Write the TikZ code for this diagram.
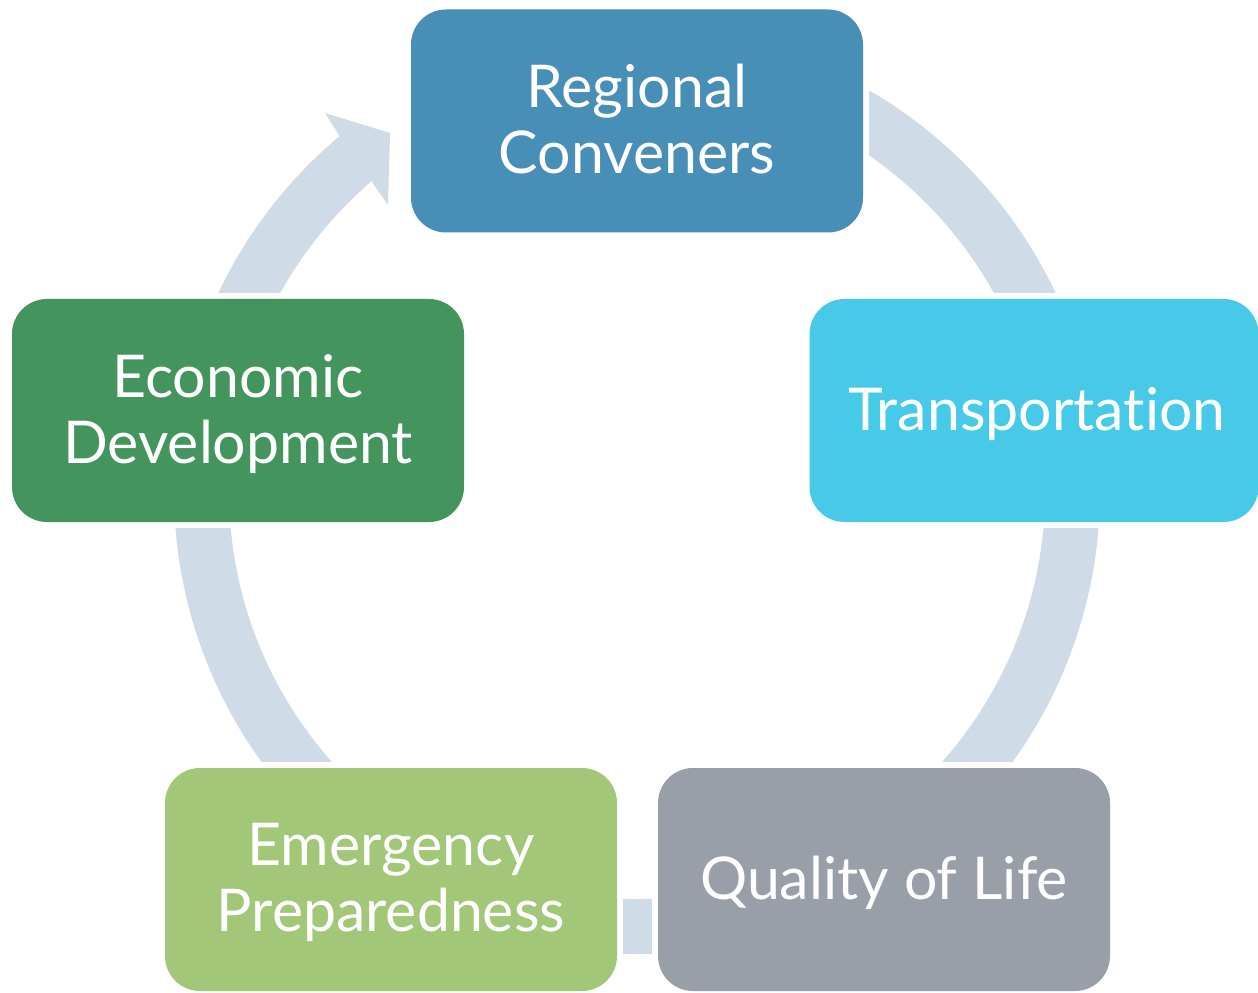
\documentclass[tikz,border=0pt]{standalone}
\usepackage{fontspec}
\setmainfont{Lato}[Ligatures=NoCommon]
\usetikzlibrary{backgrounds}
\definecolor{cRC}{HTML}{488FB8}
\definecolor{cT}{HTML}{46CAE8}
\definecolor{cQ}{HTML}{989FA9}
\definecolor{cEP}{HTML}{A2C778}
\definecolor{cED}{HTML}{43955D}
\definecolor{cArc}{HTML}{CFDBE6}
\begin{document}
\begin{tikzpicture}[x=0.5pt,y=0.5pt,
  box/.style={rectangle, rounded corners=17.5pt, inner sep=0pt,
    minimum width=226pt, minimum height=111.5pt},
  txt/.style={text=white, align=center, inner sep=0pt,
    font=\fontsize{29.5}{33}\selectfont},
  arcband/.style={fill=cArc},
  mask/.style={fill=white}]
\useasboundingbox (0,0) rectangle (1258,992);
\node[box, fill=cRC] (rc) at (637,871) {};
\node[box, fill=cT, minimum width=224.5pt] (tr) at (1034,581.5) {};
\node[box, fill=cQ] (ql) at (884,112.5) {};
\node[box, fill=cEP] (ep) at (391,112.5) {};
\node[box, fill=cED] (ed) at (238,581.5) {};
\node[txt] (rct) at ([shift={(0,2)}]rc.center) {Regional\\Conveners};
\node[txt] (trt) at ([shift={(3,-4)}]tr.center) {Transportation};
\node[txt] (qlt) at ([shift={(0,-3)}]ql.center) {Quality of Life};
\node[txt] (ept) at ([shift={(0,-3)}]ep.center) {Emergency\\Preparedness};
\node[txt] (edt) at ([shift={(0,-4)}]ed.center) {Economic\\Development};
\begin{scope}[on background layer]
  \begin{scope}[shift={(637,501)}]
    \fill[arcband] (130:463) arc[start angle=130, end angle=455, radius=463]
      -- (455:408) arc[start angle=455, end angle=130.6, radius=408] -- cycle;
    \fill[arcband] (-297,354) -- (-312,378) -- (-247,358) -- (-249,286) -- (-265,309) -- cycle;
  \end{scope}
  \foreach \n in {rc,tr,ql,ep,ed}{
    \fill[mask] ([shift={(-5.5,-5.5)}]\n.south west) rectangle ([shift={(5.5,5.5)}]\n.north east);
  }
\end{scope}
\end{tikzpicture}
\end{document}
